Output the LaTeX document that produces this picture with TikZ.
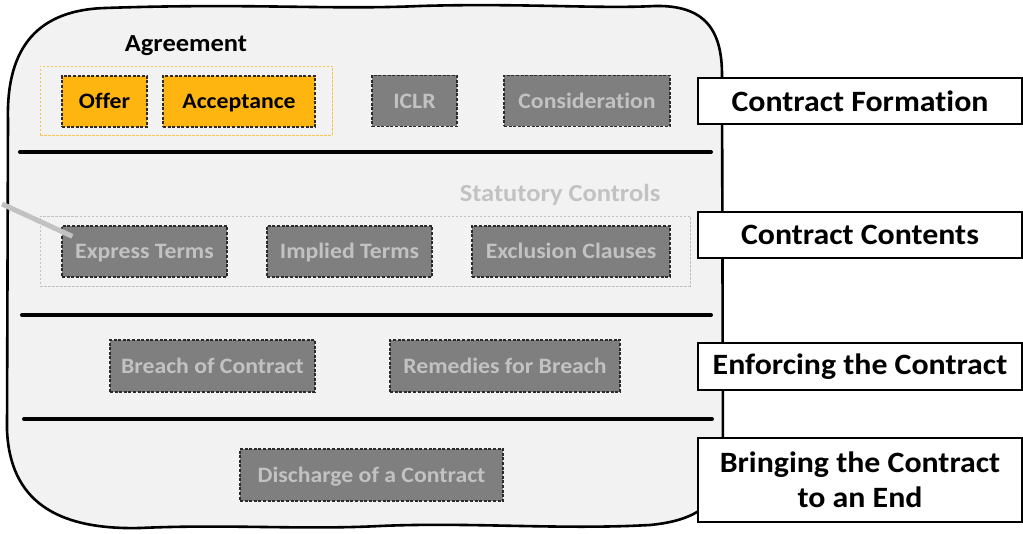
\documentclass[tikz,border=0pt]{standalone}
\usepackage{fontspec}
\setmainfont{Carlito}[FakeStretch=1.08, Ligatures=NoCommon]
\usetikzlibrary{positioning}
\definecolor{panel}{HTML}{F2F2F2}
\definecolor{gold}{HTML}{FFB50F}
\definecolor{goldline}{HTML}{F7C548}
\definecolor{slate}{HTML}{7F7F7F}
\definecolor{faint}{HTML}{C2C2C2}
\definecolor{edge}{HTML}{2B2B2B}

\begin{document}
\begin{tikzpicture}[
    x=1pt, y=-1pt,
    every node/.style={font=\bfseries},
    stage/.style={draw=black, line width=2.4pt, fill=white, minimum width=324pt,
        align=center, inner sep=0pt, font=\bfseries\fontsize{29.5}{35}\selectfont},
    goldbox/.style={draw=edge, dashed, dash pattern=on 3pt off 1.6pt, line width=1.3pt,
        fill=gold, minimum height=51pt, inner sep=0pt, text=black,
        text height=17pt, text depth=2.8pt,
        font=\bfseries\fontsize{22}{26}\selectfont},
    greybox/.style={goldbox, fill=slate, text=faint},
    wrap/.style={dashed, dash pattern=on 2.5pt off 1.5pt, line width=0.9pt, inner sep=0pt},
    rule/.style={line width=4pt, line cap=round},
]
\useasboundingbox (0,0) rectangle (1023,534);

% ================================================================ the panel
\draw[fill=panel, line width=2.6pt]
    (8,120) .. controls (6,45) and (40,10) .. (105,8)
    .. controls (250,3) and (330,10) .. (420,6)
    .. controls (520,3) and (600,9) .. (655,6)
    .. controls (705,5) and (722,30) .. (722,75)
    -- (723,460)
    .. controls (722,500) and (702,520) .. (650,525)
    .. controls (560,530) and (470,522) .. (380,526)
    .. controls (300,530) and (230,524) .. (140,528)
    .. controls (55,530) and (10,500) .. (7,430)
    -- cycle;

\draw[rule] (20,152) -- (711,152);
\draw[rule] (22,315) -- (711,315);
\draw[rule] (24,419) -- (712,419);

% ================================================================ formation
\node[font=\bfseries\fontsize{24.5}{29}\selectfont] (agree) at (186,46) {Agreement};
\node[wrap, draw=goldline, minimum width=292pt, minimum height=69pt] (agreebox) at (186,100.5) {};
\node[goldbox, minimum width=85pt] (offer) at (104.5,101.5) {Offer};
\node[goldbox, minimum width=152pt] (accept) at (239,101.5) {Acceptance};
\node[greybox, minimum width=85pt] (iclr) at (414.5,101) {ICLR};
\node[greybox, minimum width=166pt] (consid) at (587,101) {Consideration};

% ================================================================ contents
\node[text=faint, font=\bfseries\fontsize{24.5}{29}\selectfont] (statlab) at (560,195) {Statutory Controls};
\node[wrap, draw=faint, minimum width=650pt, minimum height=70pt] (statbox) at (365,251) {};
\node[greybox, minimum width=165pt] (express) at (144.5,251.5) {Express Terms};
\node[greybox, minimum width=165pt] (implied) at (349.5,251.5) {Implied Terms};
\node[greybox, minimum width=198pt] (exclusion) at (571,251.5) {Exclusion Clauses};

\coordinate (stub) at (2,204);
\draw[faint, line width=5pt] (stub) -- ([shift={(11pt,-11pt)}]express.north west);

% ================================================================ enforcing, ending
\node[greybox, minimum width=205pt, minimum height=52pt] (breach) at (212.5,366) {Breach of Contract};
\node[greybox, minimum width=230pt, minimum height=52pt] (remedies) at (505,366) {Remedies for Breach};
\node[greybox, minimum width=263pt, minimum height=52pt] (discharge) at (371.5,475) {Discharge of a Contract};

% ================================================================ stages
\node[stage, minimum height=46pt] (formation) at (860,101) {Contract Formation};
\node[stage, minimum height=46pt] (contents) at (860,235) {Contract Contents};
\node[stage, minimum height=47pt] (enforcing) at (860,366.5) {Enforcing the Contract};
\node[stage, minimum height=84pt] (ending) at (860,480) {Bringing the Contract\\to an End};
\end{tikzpicture}
\end{document}
